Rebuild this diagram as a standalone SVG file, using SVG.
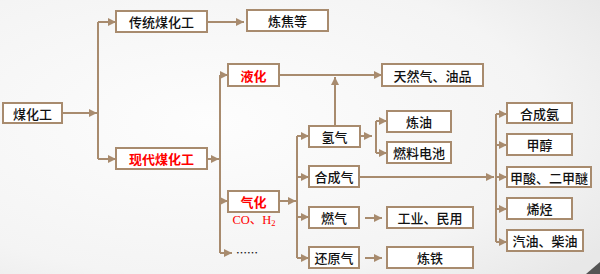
<svg xmlns="http://www.w3.org/2000/svg" width="600" height="274" viewBox="0 0 600 274">
<defs>
<radialGradient id="bg" cx="0.35" cy="0.45" r="0.8">
<stop offset="0" stop-color="#fdfdfd"/>
<stop offset="0.7" stop-color="#f4f4f4"/>
<stop offset="1" stop-color="#e8e8e8"/>
</radialGradient>
<marker id="ah" viewBox="0 0 8 8" refX="8" refY="4" markerWidth="8" markerHeight="8" markerUnits="userSpaceOnUse" orient="auto">
<path d="M0,0 L8,4 L0,8 Z" fill="#a88b6e"/>
</marker>
<style>
.box{fill:#ffffff;stroke:#a88b6e;stroke-width:2}
.ln{fill:none;stroke:#a88b6e;stroke-width:2}
.ar{fill:none;stroke:#a88b6e;stroke-width:2;marker-end:url(#ah)}
text{font-family:"Noto Sans CJK SC","Noto Sans",sans-serif;font-size:13px;font-weight:500;fill:#111;text-anchor:middle;dominant-baseline:central}
.red{fill:#ff0000;font-weight:700}
.sub{font-family:"Liberation Serif","Noto Sans CJK SC",serif;font-size:12.5px;font-weight:400;fill:#ff0000}
</style>
</defs>
<rect x="0" y="0" width="600" height="274" fill="url(#bg)"/>
<polygon points="600,262 600,274 586,274" fill="#555"/>

<g id="connectors">
<path class="ar" d="M62,113 H97"/>
<path class="ln" d="M98,22 V159"/>
<path class="ar" d="M98,22 H116"/>
<path class="ar" d="M98,159 H116"/>
<path class="ar" d="M207,22 H244"/>
<path class="ar" d="M207,159 H219"/>
<path class="ln" d="M220,75 V253"/>
<path class="ar" d="M220,75 H228"/>
<path class="ar" d="M220,201 H228"/>
<path class="ar" d="M220,253 H232"/>
<path class="ar" d="M279,75 H382"/>
<path class="ar" d="M335,126 V77"/>
<path class="ar" d="M279,201 H296"/>
<path class="ln" d="M297,136 V258"/>
<path class="ar" d="M297,136 H309"/>
<path class="ar" d="M297,177 H309"/>
<path class="ar" d="M297,217 H309"/>
<path class="ar" d="M297,258 H309"/>
<path class="ar" d="M360,136 H372"/>
<path class="ln" d="M376,121 V153"/>
<path class="ar" d="M376,121 H387"/>
<path class="ar" d="M376,153 H387"/>
<path class="ar" d="M365,218 H382"/>
<path class="ar" d="M365,258 H382"/>
<path class="ar" d="M359,177 H494"/>
<path class="ln" d="M496,114 V242"/>
<path class="ar" d="M496,114 H507"/>
<path class="ar" d="M496,145 H507"/>
<path class="ar" d="M496,177 H507"/>
<path class="ar" d="M496,209 H507"/>
<path class="ar" d="M496,242 H507"/>
</g>

<g id="n-meihuagong"><rect class="box" x="3" y="103" width="59" height="20"/><text x="32.5" y="113">煤化工</text></g>
<g id="n-chuantong"><rect class="box" x="116" y="11" width="91" height="21"/><text x="161.5" y="21.5">传统煤化工</text></g>
<g id="n-xiandai"><rect class="box" x="116" y="148" width="91" height="21"/><text class="red" x="161.5" y="158.5">现代煤化工</text></g>
<g id="n-lianjiao"><rect class="box" x="247" y="10" width="81" height="21"/><text x="287.5" y="20.5">炼焦等</text></g>
<g id="n-yehua"><rect class="box" x="228" y="64" width="51" height="22"/><text class="red" x="253.5" y="75">液化</text></g>
<g id="n-qihua"><rect class="box" x="228" y="191" width="51" height="21"/><text class="red" x="253.5" y="201.5">气化</text>
<text class="sub" x="254" y="220">CO、H<tspan font-size="8.5" dy="3">2</tspan></text></g>
<g id="n-more"><text x="247" y="252" style="font-size:11px">……</text></g>
<g id="n-tianranqi"><rect class="box" x="382" y="64" width="101" height="22"/><text x="432.5" y="75">天然气、油品</text></g>
<g id="n-qingqi"><rect class="box" x="309" y="126" width="51" height="21"/><text x="334.5" y="136.5">氢气</text></g>
<g id="n-hechengqi"><rect class="box" x="309" y="166" width="50" height="21"/><text x="334" y="176.5">合成气</text></g>
<g id="n-ranqi"><rect class="box" x="309" y="207" width="50" height="21"/><text x="334" y="217.5">燃气</text></g>
<g id="n-huanyuanqi"><rect class="box" x="309" y="247" width="50" height="21"/><text x="334" y="257.5">还原气</text></g>
<g id="n-lianyou"><rect class="box" x="387" y="111" width="64" height="21"/><text x="419" y="121.5">炼油</text></g>
<g id="n-ranliao"><rect class="box" x="387" y="142" width="64" height="21"/><text x="419" y="152.5">燃料电池</text></g>
<g id="n-gongye"><rect class="box" x="387" y="207" width="86" height="21"/><text x="430" y="217.5">工业、民用</text></g>
<g id="n-liantie"><rect class="box" x="387" y="247" width="86" height="21"/><text x="430" y="257.5">炼铁</text></g>
<g id="n-hechengan"><rect class="box" x="507" y="103" width="65" height="20"/><text x="539.5" y="113">合成氨</text></g>
<g id="n-jiachun"><rect class="box" x="507" y="134" width="65" height="21"/><text x="539.5" y="144.5">甲醇</text></g>
<g id="n-jiasuan"><rect class="box" x="507" y="167" width="84" height="20"/><text x="549" y="177">甲酸、二甲醚</text></g>
<g id="n-xiting"><rect class="box" x="507" y="198" width="65" height="21"/><text x="539.5" y="208.5">烯烃</text></g>
<g id="n-qiyou"><rect class="box" x="507" y="230" width="76" height="21"/><text x="545" y="240.5">汽油、柴油</text></g>
</svg>
